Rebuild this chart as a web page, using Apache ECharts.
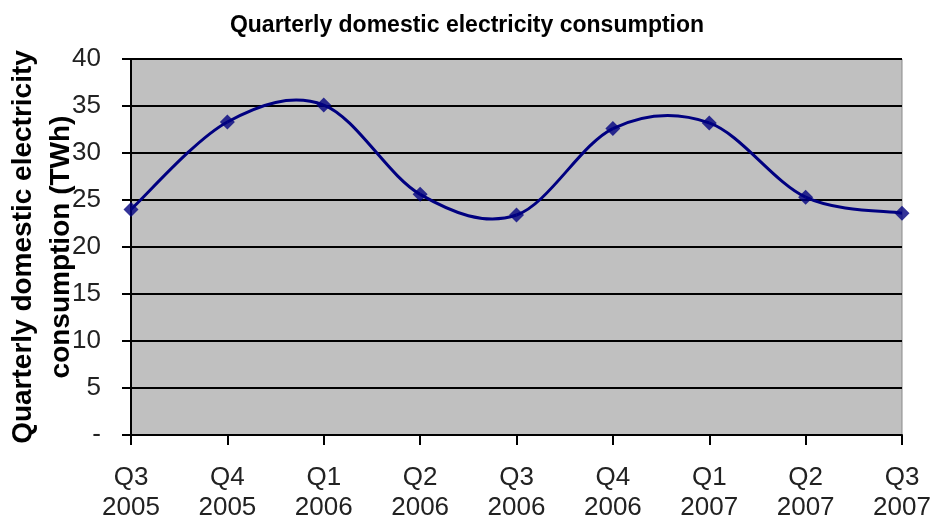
<!DOCTYPE html>
<html>
<head>
<meta charset="utf-8">
<script src="https://cdn.jsdelivr.net/npm/echarts@6/dist/echarts.min.js"></script>
<style>
  html, body { margin: 0; padding: 0; background: #fff; }
  #chart { width: 934px; height: 526px; }
</style>
</head>
<body>
<div id="chart"></div>
<script>
// Quarters shown on the category axis (quarter / year on two lines)
const quarters = ['Q3\n2005', 'Q4\n2005', 'Q1\n2006', 'Q2\n2006', 'Q3\n2006',
                  'Q4\n2006', 'Q1\n2007', 'Q2\n2007', 'Q3\n2007'];
// Domestic electricity consumption per quarter, TWh
const consumption = [24.0, 33.3, 35.1, 25.6, 23.4, 32.6, 33.2, 25.3, 23.6];
// Value axis range
const yMin = 0, yMax = 40, yStep = 5;

const LINE_COLOR = '#000080';
const FONT = 'Liberation Sans, Arial, sans-serif';

// Smoothed curve: each segment i -> i+1 is a cubic Bezier whose control
// points follow the Catmull-Rom tangents of the neighbouring points.
function renderSegment(params, api) {
  const i = params.dataIndex;
  const n = consumption.length;
  if (i >= n - 1) return null;
  const pt = j => {
    const k = Math.max(0, Math.min(n - 1, j));
    return api.coord([k, consumption[k]]);
  };
  const p0 = pt(i - 1), p1 = pt(i), p2 = pt(i + 1), p3 = pt(i + 2);
  const t = 1 / 6;
  return {
    type: 'bezierCurve',
    shape: {
      x1: p1[0], y1: p1[1],
      cpx1: p1[0] + (p2[0] - p0[0]) * t, cpy1: p1[1] + (p2[1] - p0[1]) * t,
      cpx2: p2[0] - (p3[0] - p1[0]) * t, cpy2: p2[1] - (p3[1] - p1[1]) * t,
      x2: p2[0], y2: p2[1]
    },
    style: { stroke: LINE_COLOR, lineWidth: 3, fill: null }
  };
}

const chart = echarts.init(document.getElementById('chart'), null, { renderer: 'canvas' });

chart.setOption({
  animation: false,
  backgroundColor: '#ffffff',
  title: {
    text: 'Quarterly domestic electricity consumption',
    left: 'center',
    top: 9,
    textStyle: { fontFamily: FONT, fontSize: 23, fontWeight: 'bold', color: '#000' }
  },
  grid: {
    left: 131, right: 32, top: 59, bottom: 91,
    outerBoundsMode: 'none',
    containLabel: false,
    show: true,
    backgroundColor: '#c0c0c0',
    borderColor: '#8a8a8a',
    borderWidth: 1
  },
  xAxis: {
    type: 'category',
    data: quarters,
    boundaryGap: false,
    axisLine: { show: true, lineStyle: { color: '#000', width: 2 } },
    axisTick: { show: true, alignWithLabel: true, length: 10, lineStyle: { color: '#000', width: 2 } },
    axisLabel: {
      margin: 28,
      fontFamily: FONT,
      fontSize: 26,
      lineHeight: 30,
      color: '#222'
    },
    splitLine: { show: false }
  },
  yAxis: {
    type: 'value',
    min: yMin, max: yMax, interval: yStep,
    name: 'Quarterly domestic electricity\nconsumption (TWh)',
    nameLocation: 'middle',
    nameGap: 51,
    nameRotate: 90,
    nameMoveOverlap: false,
    nameTextStyle: {
      fontFamily: FONT,
      fontSize: 28,
      fontWeight: 'bold',
      lineHeight: 38,
      color: '#000'
    },
    axisLine: { show: true, lineStyle: { color: '#000', width: 2 } },
    axisTick: { show: true, length: 9, lineStyle: { color: '#000', width: 2 } },
    axisLabel: {
      margin: 30,
      fontFamily: FONT,
      fontSize: 26,
      color: '#222',
      formatter: v => (v === 0 ? '-' : String(v))
    },
    splitLine: { show: true, lineStyle: { color: '#000', width: 2 } }
  },
  series: [
    {
      type: 'custom',
      name: 'curve',
      data: consumption.map((v, i) => [i, v]),
      encode: { x: 0, y: 1 },
      renderItem: renderSegment,
      clip: true,
      z: 2
    },
    {
      type: 'scatter',
      name: 'points',
      data: consumption,
      symbol: 'diamond',
      symbolSize: 15,
      itemStyle: { color: LINE_COLOR },
      z: 3
    }
  ]
});
</script>
</body>
</html>
